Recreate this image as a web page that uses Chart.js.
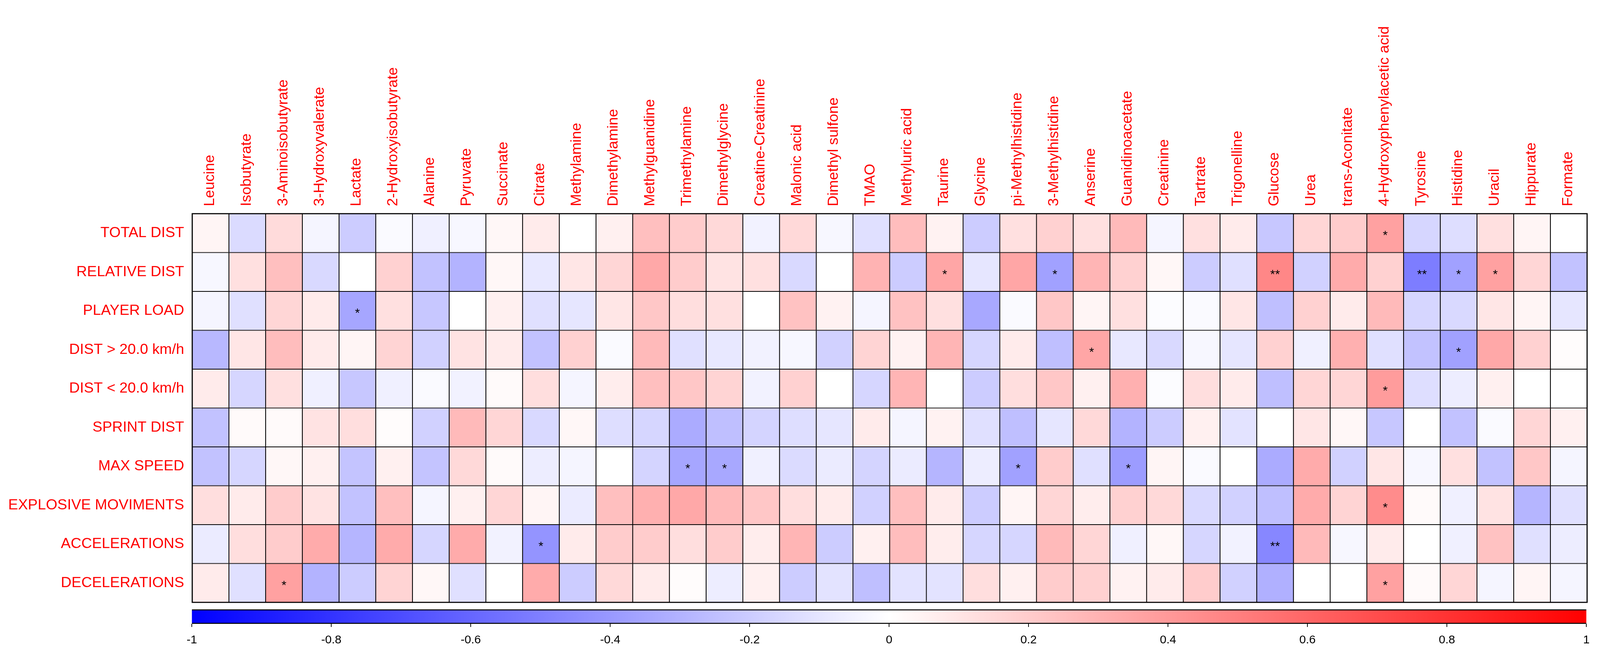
<!DOCTYPE html>
<html lang="en">

<head>
    <meta charset="utf-8">
    <script src="https://cdn.jsdelivr.net/npm/chart.js@4.4.1/dist/chart.umd.min.js"></script>
    <style>
        html, body { margin: 0; padding: 0; background: #fff; overflow: hidden; }
        canvas { position: absolute; left: 0; display: block; }
    </style>
</head>

<body>
    <canvas id="heatmap"></canvas>
    <canvas id="colorbar"></canvas>

    <script>
        const metabolites = ['Leucine', 'Isobutyrate', '3-Aminoisobutyrate', '3-Hydroxyvalerate', 'Lactate',
            '2-Hydroxyisobutyrate', 'Alanine', 'Pyruvate', 'Succinate', 'Citrate', 'Methylamine', 'Dimethylamine',
            'Methylguanidine', 'Trimethylamine', 'Dimethylglycine', 'Creatine-Creatinine', 'Malonic acid',
            'Dimethyl sulfone', 'TMAO', 'Methyluric acid', 'Taurine', 'Glycine', 'pi-Methylhistidine',
            '3-Methylhistidine', 'Anserine', 'Guanidinoacetate', 'Creatinine', 'Tartrate', 'Trigonelline',
            'Glucose', 'Urea', 'trans-Aconitate', '4-Hydroxyphenylacetic acid', 'Tyrosine', 'Histidine',
            'Uracil', 'Hippurate', 'Formate'];

        const parameters = ['TOTAL DIST', 'RELATIVE DIST', 'PLAYER LOAD', 'DIST > 20.0 km/h', 'DIST < 20.0 km/h',
            'SPRINT DIST', 'MAX SPEED', 'EXPLOSIVE MOVIMENTS', 'ACCELERATIONS', 'DECELERATIONS'];

        // correlation coefficients, one array per parameter (same order as metabolites)
        const totalDist = [0.04, -0.14, 0.14, -0.04, -0.2, -0.02, -0.06, -0.03, 0.03, 0.08,
            0, 0.06, 0.25, 0.2, 0.15, -0.05, 0.15, -0.03, -0.12, 0.26, 0.05, -0.2, 0.12, 0.18,
            0.12, 0.27, -0.04, 0.12, 0.08, -0.22, 0.16, 0.2, 0.37, -0.16, -0.13, 0.12, 0.04, 0];
        const relativeDist = [-0.03, 0.12, 0.25, -0.15, 0, 0.18, -0.24, -0.3, 0.03, -0.09,
            0.1, 0.16, 0.34, 0.2, 0.11, 0.12, -0.15, 0, 0.3, -0.2, 0.35, -0.1, 0.35, -0.37,
            0.29, 0.18, 0.03, -0.2, -0.12, 0.47, -0.18, 0.33, 0.18, -0.51, -0.37, 0.37, 0.16, -0.24];
        const playerLoad = [-0.04, -0.12, 0.16, 0.08, -0.35, 0.12, -0.22, 0, 0.06, -0.12,
            -0.1, 0.1, 0.22, 0.13, 0.12, 0, 0.24, 0.05, -0.04, 0.24, 0.12, -0.34, -0.02, 0.22,
            0.04, 0.12, -0.01, -0.02, 0.1, -0.25, 0.18, 0.08, 0.27, -0.16, -0.15, 0.1, 0.04, -0.1];
        const distOver20 = [-0.28, 0.1, 0.26, 0.08, 0.04, 0.17, -0.18, 0.11, 0.08, -0.24,
            0.18, -0.02, 0.27, -0.12, -0.09, -0.05, -0.03, -0.18, 0.17, 0.05, 0.29, -0.16, 0.08, -0.25,
            0.35, -0.09, -0.15, -0.03, -0.1, 0.18, -0.06, 0.31, -0.12, -0.24, -0.37, 0.34, 0.18, 0.01];
        const distUnder20 = [0.08, -0.16, 0.12, -0.06, -0.22, -0.06, -0.02, -0.05, 0.02, 0.13,
            -0.04, 0.07, 0.25, 0.22, 0.17, -0.05, 0.18, 0, -0.16, 0.29, 0, -0.2, 0.13, 0.22,
            0.06, 0.31, -0.01, 0.13, 0.08, -0.25, 0.16, 0.16, 0.39, -0.13, -0.07, 0.06, 0, 0];
        const sprintDist = [-0.24, 0.02, 0.02, 0.11, 0.13, 0.01, -0.18, 0.27, 0.16, -0.15,
            0.03, -0.13, -0.16, -0.33, -0.25, -0.17, -0.13, -0.1, 0.08, -0.04, 0.05, -0.12, -0.25, -0.1,
            0.15, -0.3, -0.2, 0.06, -0.11, 0, 0.1, 0.03, -0.22, 0, -0.24, -0.02, 0.16, 0.06];
        const maxSpeed = [-0.24, -0.16, 0.03, 0.06, -0.23, 0.06, -0.23, 0.15, 0.02, -0.07,
            -0.04, 0, -0.17, -0.35, -0.34, -0.06, -0.14, -0.08, -0.17, -0.08, -0.29, -0.07, -0.37, 0.2,
            -0.12, -0.39, 0.04, -0.02, 0, -0.33, 0.33, -0.18, 0.1, -0.03, 0.12, -0.24, 0.22, -0.04];
        const explosive = [0.13, 0.08, 0.2, 0.11, -0.24, 0.25, -0.04, 0.06, 0.16, 0.04,
            -0.08, 0.25, 0.31, 0.34, 0.27, 0.22, 0.13, 0.08, -0.18, 0.25, 0.08, -0.2, 0.04, 0.16,
            0.07, 0.18, 0.15, -0.15, -0.18, -0.25, 0.33, 0.17, 0.45, 0.02, -0.06, 0.11, -0.29, -0.12];
        const accelerations = [-0.08, 0.13, 0.2, 0.33, -0.29, 0.33, -0.16, 0.33, -0.05, -0.42,
            0.08, 0.2, 0.2, 0.13, 0.2, 0.07, 0.29, -0.2, 0.06, 0.26, 0.07, -0.16, -0.16, 0.27,
            0.16, -0.06, 0.03, -0.16, -0.05, -0.47, 0.27, -0.03, 0.08, 0, -0.06, 0.24, -0.12, -0.07];
        const decelerations = [0.08, -0.12, 0.37, -0.3, -0.2, 0.17, 0.03, -0.12, 0, 0.33,
            -0.2, 0.15, 0.08, 0.01, -0.07, 0.06, -0.2, -0.11, -0.25, -0.11, -0.11, 0.13, 0.06, 0.2,
            0.18, 0.05, 0.08, 0.2, -0.18, -0.31, 0, 0, 0.37, 0.02, 0.16, -0.04, 0.04, -0.04];

        const rows = [totalDist, relativeDist, playerLoad, distOver20, distUnder20,
            sprintDist, maxSpeed, explosive, accelerations, decelerations];

        // [parameter, metabolite, mark]
        const significance = [
            ['TOTAL DIST', '4-Hydroxyphenylacetic acid', '*'],
            ['RELATIVE DIST', 'Taurine', '*'],
            ['RELATIVE DIST', '3-Methylhistidine', '*'],
            ['RELATIVE DIST', 'Glucose', '**'],
            ['RELATIVE DIST', 'Tyrosine', '**'],
            ['RELATIVE DIST', 'Histidine', '*'],
            ['RELATIVE DIST', 'Uracil', '*'],
            ['PLAYER LOAD', 'Lactate', '*'],
            ['DIST > 20.0 km/h', 'Anserine', '*'],
            ['DIST > 20.0 km/h', 'Histidine', '*'],
            ['DIST < 20.0 km/h', '4-Hydroxyphenylacetic acid', '*'],
            ['MAX SPEED', 'Trimethylamine', '*'],
            ['MAX SPEED', 'Dimethylglycine', '*'],
            ['MAX SPEED', 'pi-Methylhistidine', '*'],
            ['MAX SPEED', 'Guanidinoacetate', '*'],
            ['EXPLOSIVE MOVIMENTS', '4-Hydroxyphenylacetic acid', '*'],
            ['ACCELERATIONS', 'Citrate', '*'],
            ['ACCELERATIONS', 'Glucose', '**'],
            ['DECELERATIONS', '3-Aminoisobutyrate', '*'],
            ['DECELERATIONS', '4-Hydroxyphenylacetic acid', '*']
        ];

        const colorbarTicks = [-1, -0.8, -0.6, -0.4, -0.2, 0, 0.2, 0.4, 0.6, 0.8, 1];

        const FONT = "'Liberation Sans', Arial, sans-serif";

        // the layout is measured on a 4345 x 1687 picture; scale to the real viewport
        const W = window.innerWidth || 4345;
        const H = window.innerHeight || 1687;
        const sx = W / 4345, sy = H / 1687;
        const fs = Math.min(sx, sy);
        const colFont = 40 * fs;

        function corrColor(v) {
            if (v >= 0) {
                const c = Math.round(255 * (1 - v));
                return `rgb(255,${c},${c})`;
            }
            const c = Math.round(255 * (1 + v));
            return `rgb(${c},${c},255)`;
        }

        const hmCanvas = document.getElementById('heatmap');
        hmCanvas.width = W;
        hmCanvas.height = Math.round(1550 * sy);
        hmCanvas.style.top = '0px';

        const cbCanvas = document.getElementById('colorbar');
        cbCanvas.width = W;
        cbCanvas.height = H - hmCanvas.height;
        cbCanvas.style.top = hmCanvas.height + 'px';

        const starPlugin = {
            id: 'stars',
            afterDatasetsDraw(chart) {
                const ctx = chart.ctx;
                ctx.save();
                ctx.fillStyle = '#000';
                ctx.font = `${34 * fs}px ${FONT}`;
                ctx.textAlign = 'center';
                ctx.textBaseline = 'middle';
                significance.forEach(([param, met, mark]) => {
                    const r = parameters.indexOf(param);
                    const c = metabolites.indexOf(met);
                    const bar = chart.getDatasetMeta(r).data[c];
                    if (!bar) return;
                    const p = bar.getCenterPoint();
                    ctx.fillText(mark, p.x, p.y + 8 * fs);
                });
                // outer frame
                const a = chart.chartArea;
                ctx.strokeStyle = '#000';
                ctx.lineWidth = 3 * fs;
                ctx.strokeRect(a.left, a.top, a.right - a.left, a.bottom - a.top);
                ctx.restore();
            }
        };

        new Chart(hmCanvas.getContext('2d'), {
            type: 'bar',
            data: {
                labels: metabolites,
                datasets: rows.map((vals, r) => ({
                    label: parameters[r],
                    data: vals.map(() => [r, r + 1]),
                    backgroundColor: vals.map(corrColor),
                    borderColor: '#000',
                    borderWidth: 1.5 * fs,
                    borderSkipped: false,
                    barPercentage: 1,
                    categoryPercentage: 1,
                    grouped: false
                }))
            },
            options: {
                responsive: false,
                animation: false,
                layout: { padding: { top: 0, left: 0, right: 35 * sx, bottom: 8 * sy } },
                plugins: { legend: { display: false }, tooltip: { enabled: false } },
                scales: {
                    x: {
                        position: 'top',
                        grid: { display: false, drawTicks: false },
                        border: { display: false },
                        afterFit: s => {
                            s.height = 547 * sy;
                            s.paddingLeft = 0; s.paddingRight = 0;
                        },
                        ticks: {
                            autoSkip: false,
                            minRotation: 90,
                            maxRotation: 90,
                            padding: 19 * sy,
                            // rotated top labels are drawn one line-height left of the tick
                            labelOffset: colFont * 1.2 - 2 * fs,
                            color: '#ff0000',
                            font: { family: FONT, size: colFont }
                        }
                    },
                    y: {
                        type: 'linear',
                        min: 0,
                        max: parameters.length,
                        reverse: true,
                        grid: { display: false, drawTicks: false },
                        border: { display: false },
                        afterFit: s => {
                            s.width = 522 * sx;
                            s.paddingTop = 0; s.paddingBottom = 0;
                        },
                        afterBuildTicks: s => { s.ticks = parameters.map((_, i) => ({ value: i + 0.5 })); },
                        ticks: {
                            padding: 22 * sx,
                            color: '#ff0000',
                            font: { family: FONT, size: 40 * fs },
                            callback: (v, i) => parameters[i]
                        }
                    }
                }
            },
            plugins: [starPlugin]
        });

        new Chart(cbCanvas.getContext('2d'), {
            type: 'bar',
            data: {
                labels: [''],
                datasets: [{
                    data: [[-1, 1]],
                    backgroundColor: ctx => {
                        const chart = ctx.chart;
                        const xs = chart.scales.x;
                        if (!chart.chartArea || !xs) return '#fff';
                        const x0 = xs.getPixelForValue(-1), x1 = xs.getPixelForValue(1);
                        const g = chart.ctx.createLinearGradient(x0, 0, x1, 0);
                        g.addColorStop(0, corrColor(-1));
                        g.addColorStop(0.5, corrColor(0));
                        g.addColorStop(1, corrColor(1));
                        return g;
                    },
                    borderColor: '#000',
                    borderWidth: { top: 3 * fs, bottom: 3 * fs, left: 0, right: 0 },
                    borderSkipped: false,
                    barPercentage: 1,
                    categoryPercentage: 1
                }]
            },
            options: {
                indexAxis: 'y',
                responsive: false,
                animation: false,
                layout: { padding: { top: 10 * sy, left: 521 * sx, right: 37 * sx, bottom: 0 } },
                plugins: { legend: { display: false }, tooltip: { enabled: false } },
                scales: {
                    y: { display: false },
                    x: {
                        type: 'linear',
                        min: -1,
                        max: 1,
                        afterFit: s => {
                            s.height = cbCanvas.height - 47 * sy;
                            s.paddingLeft = 0; s.paddingRight = 0;
                        },
                        afterBuildTicks: s => { s.ticks = colorbarTicks.map(v => ({ value: v })); },
                        grid: { drawOnChartArea: false, drawTicks: true, tickLength: 8 * sy, color: '#000', lineWidth: 2 * fs },
                        border: { display: false },
                        ticks: {
                            padding: 16 * sy,
                            color: '#000',
                            font: { family: FONT, size: 32 * fs },
                            callback: v => String(Number(v.toFixed(1)))
                        }
                    }
                }
            }
        });
    </script>
</body>

</html>
